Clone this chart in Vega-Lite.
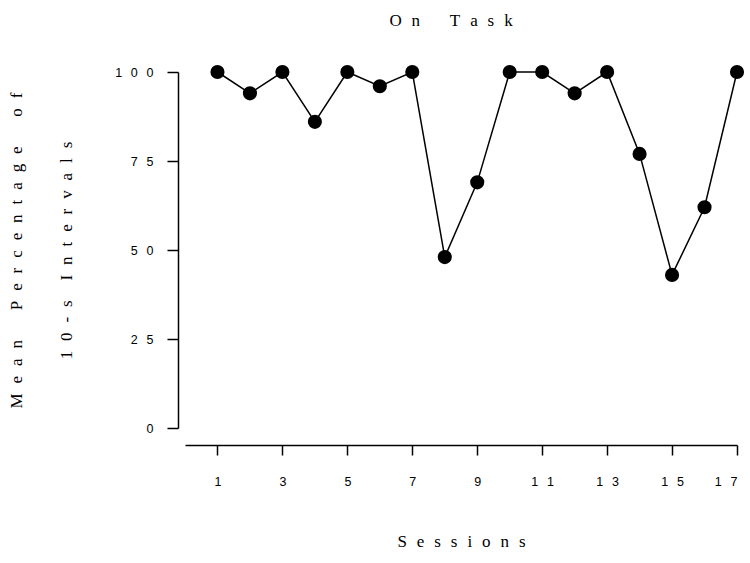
{
  "$schema": "https://vega.github.io/schema/vega-lite/v6.json",
  "width": 552,
  "height": 356,
  "autosize": {"type": "none"},
  "padding": {"left": 185, "top": 72, "right": 13, "bottom": 135},
  "title": {
    "text": "O\u2004\u2005n\u2004\u2005\u2004\u2005\u2004\u2005T\u2004\u2005a\u2004\u2005s\u2004\u2005k",
    "font": "Liberation Serif",
    "fontSize": 17,
    "fontWeight": "normal",
    "color": "black",
    "offset": 35,
    "dx": -10
  },
  "config": {
    "view": {"stroke": null},
    "axis": {
      "grid": false,
      "domainColor": "black",
      "tickColor": "black",
      "labelColor": "black",
      "titleColor": "black",
      "domainWidth": 1.5,
      "tickWidth": 1.5,
      "labelFont": "Liberation Sans",
      "labelFontSize": 12.5,
      "titleFont": "Liberation Serif",
      "titleFontSize": 17,
      "titleFontWeight": "normal"
    }
  },
  "data": {
    "values": [
      {"session": 1, "pct": 100},
      {"session": 2, "pct": 94},
      {"session": 3, "pct": 100},
      {"session": 4, "pct": 86},
      {"session": 5, "pct": 100},
      {"session": 6, "pct": 96},
      {"session": 7, "pct": 100},
      {"session": 8, "pct": 48},
      {"session": 9, "pct": 69},
      {"session": 10, "pct": 100},
      {"session": 11, "pct": 100},
      {"session": 12, "pct": 94},
      {"session": 13, "pct": 100},
      {"session": 14, "pct": 77},
      {"session": 15, "pct": 43},
      {"session": 16, "pct": 62},
      {"session": 17, "pct": 100}
    ]
  },
  "encoding": {
    "x": {
      "field": "session",
      "type": "quantitative",
      "scale": {"domain": [0, 17], "nice": false, "zero": false},
      "axis": {
        "values": [1, 3, 5, 7, 9, 11, 13, 15, 17],
        "offset": 17,
        "tickSize": 10,
        "labelPadding": 20,
        "labelExpr": "join(split(datum.label, ''), '\u2002\u2009')",
        "title": "S\u2004\u2005e\u2004\u2005s\u2004\u2005s\u2004\u2005i\u2004\u2005o\u2004\u2005n\u2004\u2005s\u2004\u2005",
        "titlePadding": 46
      }
    },
    "y": {
      "field": "pct",
      "type": "quantitative",
      "scale": {"domain": [0, 100], "nice": false},
      "axis": {
        "values": [0, 25, 50, 75, 100],
        "offset": 7,
        "tickSize": 11,
        "labelPadding": 14,
        "labelExpr": "join(split(datum.label, ''), '\u2002\u2009')",
        "title": [
          "M\u2004\u2005e\u2004\u2005a\u2004\u2005n\u2004\u2005\u2004\u2005\u2004\u2005P\u2004\u2005e\u2004\u2005r\u2004\u2005c\u2004\u2005e\u2004\u2005n\u2004\u2005t\u2004\u2005a\u2004\u2005g\u2004\u2005e\u2004\u2005\u2004\u2005\u2004\u2005o\u2004\u2005f",
          "1\u2004\u20050\u2004\u2005-\u2004\u2005s\u2004\u2005\u2004\u2005I\u2004\u2005n\u2004\u2005t\u2004\u2005e\u2004\u2005r\u2004\u2005v\u2004\u2005a\u2004\u2005l\u2004\u2005s"
        ],
        "titleLineHeight": 50,
        "titlePadding": 39
      }
    }
  },
  "layer": [
    {"mark": {"type": "line", "color": "black", "strokeWidth": 1.5}},
    {"mark": {"type": "point", "filled": true, "color": "black", "size": 200, "opacity": 1}}
  ]
}
